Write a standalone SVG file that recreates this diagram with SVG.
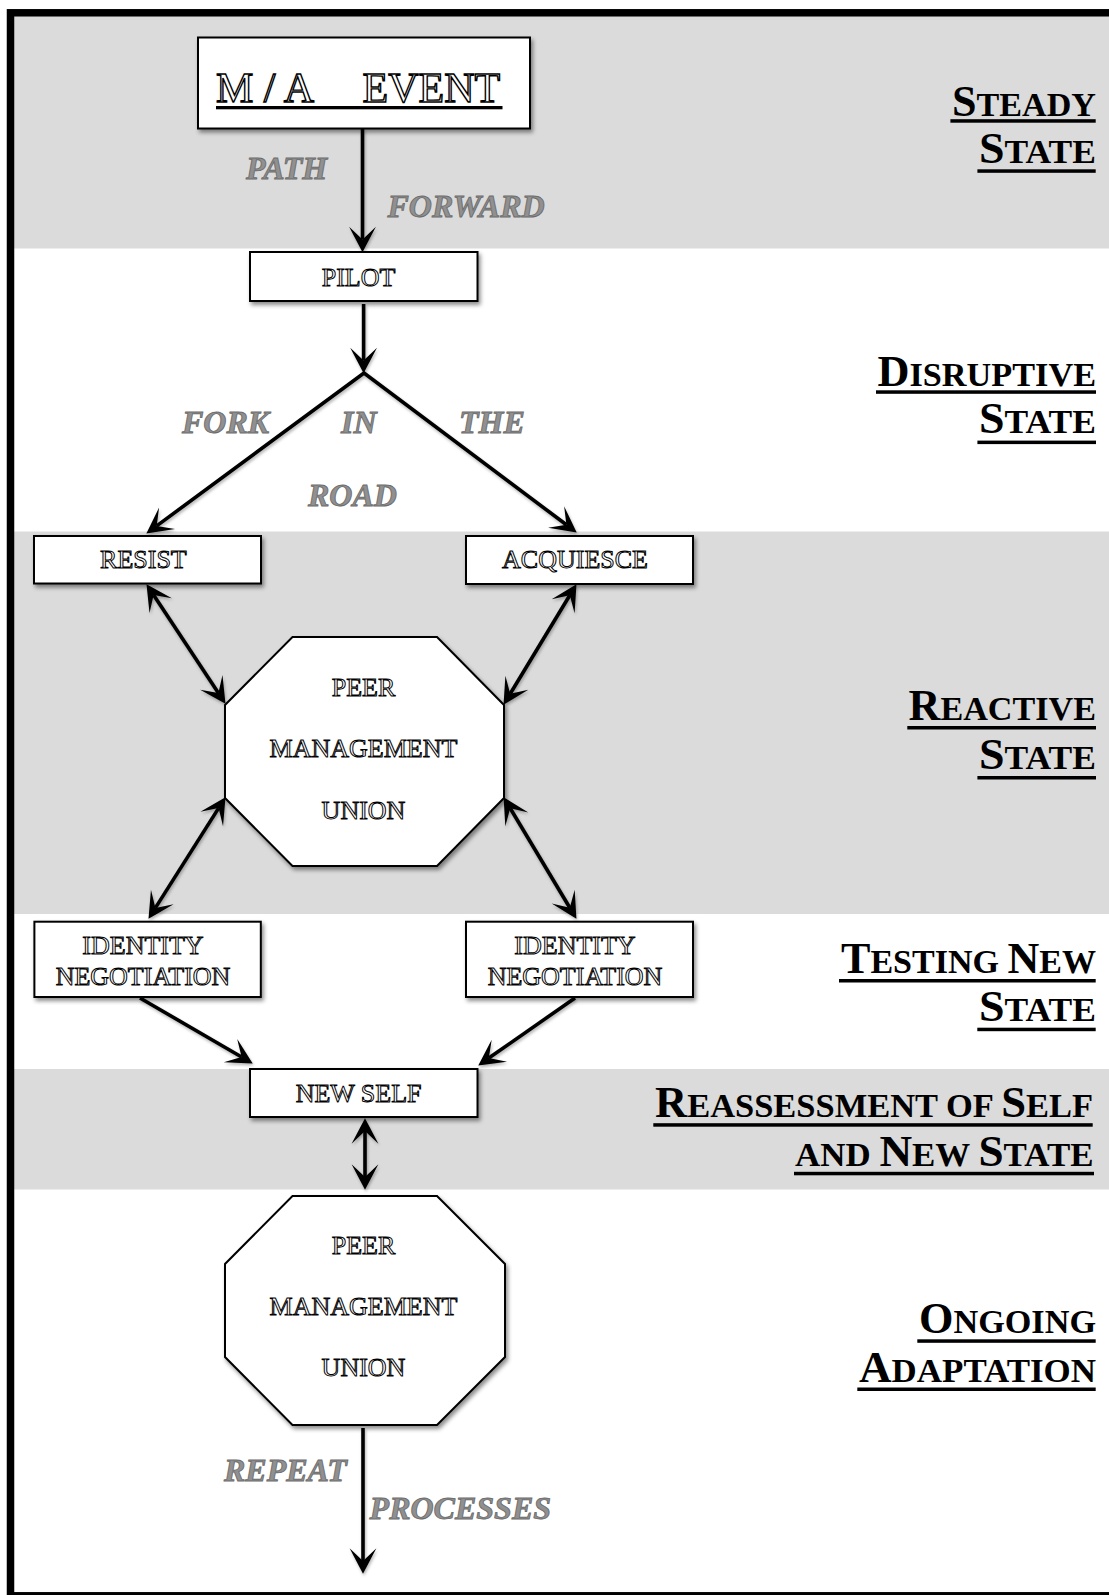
<svg xmlns="http://www.w3.org/2000/svg" width="1109" height="1595" viewBox="0 0 1109 1595">
  <style>
    .band { fill: #dbdbdb; }
    .box { fill: #fff; stroke: #000; stroke-width: 2; }
    .node-text { font-family: 'Liberation Serif', 'Times New Roman', serif; font-size: 26px; fill: #fff; stroke: #000; stroke-width: 1; text-anchor: middle; }
    .title-text { font-family: 'Liberation Serif', 'Times New Roman', serif; font-size: 42px; fill: #fff; stroke: #000; stroke-width: 1.4; }
    .path-label { font-family: 'Liberation Serif', 'Times New Roman', serif; font-size: 32px; font-weight: bold; font-style: italic; fill: #909090; stroke: #6c6c6c; stroke-width: 0.9; }
    .stage { font-family: 'Liberation Serif', 'Times New Roman', serif; font-weight: bold; font-size: 34px; fill: #000; text-anchor: end; }
    .stage .cap { font-size: 44px; }
    .rule { fill: #000; }
    .link { fill: none; stroke: #000; stroke-width: 3.6; stroke-linejoin: miter; }
  </style>
  <defs>
    <marker id="head" markerUnits="userSpaceOnUse" markerWidth="30" markerHeight="30" viewBox="-14 -14 28 28" refX="0" refY="0" orient="auto-start-reverse">
      <path d="M12,0 L-12,-12.5 L0,0 L-12,12.5 Z" fill="#000"/>
    </marker>
    <filter id="drop" x="-10%" y="-10%" width="130%" height="140%">
      <feDropShadow dx="2" dy="3" stdDeviation="2" flood-color="#000" flood-opacity="0.45"/>
    </filter>
    <filter id="linedrop" x="-20%" y="-20%" width="140%" height="140%">
      <feDropShadow dx="1" dy="2" stdDeviation="1.5" flood-color="#000" flood-opacity="0.3"/>
    </filter>
  </defs>

  <!-- page background -->
  <rect x="0" y="0" width="1109" height="1595" fill="#fff"/>

  <!-- alternating stage bands -->
  <g id="bands">
    <rect class="band" x="14" y="16.5" width="1095" height="232"/>
    <rect class="band" x="14" y="531.5" width="1095" height="382.5"/>
    <rect class="band" x="14" y="1069" width="1095" height="120.5"/>
  </g>

  <!-- outer frame -->
  <rect x="10.5" y="12.8" width="1105" height="1583" fill="none" stroke="#000" stroke-width="7.5"/>

  <!-- stage names on the right -->
  <g id="stages">
    <g id="stage-steady">
      <text class="stage" x="1096" y="115.5" textLength="144" lengthAdjust="spacingAndGlyphs"><tspan class="cap">S</tspan>TEADY</text>
      <rect class="rule" x="950.4" y="119.2" width="145.3" height="3.5"/>
      <text class="stage" x="1096" y="163.3" textLength="117" lengthAdjust="spacingAndGlyphs"><tspan class="cap">S</tspan>TATE</text>
      <rect class="rule" x="977.4" y="169.3" width="118.3" height="3.5"/>
    </g>
    <g id="stage-disruptive">
      <text class="stage" x="1096" y="385.7" textLength="218.5" lengthAdjust="spacingAndGlyphs"><tspan class="cap">D</tspan>ISRUPTIVE</text>
      <rect class="rule" x="876" y="390.3" width="220" height="3.5"/>
      <text class="stage" x="1096" y="433" textLength="117" lengthAdjust="spacingAndGlyphs"><tspan class="cap">S</tspan>TATE</text>
      <rect class="rule" x="977.4" y="440.6" width="118.6" height="3.5"/>
    </g>
    <g id="stage-reactive">
      <text class="stage" x="1096" y="720" textLength="187.5" lengthAdjust="spacingAndGlyphs"><tspan class="cap">R</tspan>EACTIVE</text>
      <rect class="rule" x="907.3" y="726" width="188.7" height="3.5"/>
      <text class="stage" x="1096" y="769.3" textLength="117" lengthAdjust="spacingAndGlyphs"><tspan class="cap">S</tspan>TATE</text>
      <rect class="rule" x="977.4" y="776" width="118.6" height="3.5"/>
    </g>
    <g id="stage-testing">
      <text class="stage" x="1096" y="972.7" textLength="255" lengthAdjust="spacingAndGlyphs"><tspan class="cap">T</tspan>ESTING <tspan class="cap">N</tspan>EW</text>
      <rect class="rule" x="839" y="979" width="256.7" height="3.5"/>
      <text class="stage" x="1096" y="1020.7" textLength="117" lengthAdjust="spacingAndGlyphs"><tspan class="cap">S</tspan>TATE</text>
      <rect class="rule" x="977.3" y="1027.7" width="118.4" height="3.5"/>
    </g>
    <g id="stage-reassessment">
      <text class="stage" x="1093" y="1116.7" textLength="438" lengthAdjust="spacingAndGlyphs"><tspan class="cap">R</tspan>EASSESSMENT OF <tspan class="cap">S</tspan>ELF</text>
      <rect class="rule" x="653.3" y="1123.2" width="439.4" height="3.5"/>
      <text class="stage" x="1093.5" y="1165.7" textLength="298.5" lengthAdjust="spacingAndGlyphs">AND <tspan class="cap">N</tspan>EW <tspan class="cap">S</tspan>TATE</text>
      <rect class="rule" x="794" y="1171.8" width="300" height="3.5"/>
    </g>
    <g id="stage-ongoing">
      <text class="stage" x="1096" y="1333" textLength="177" lengthAdjust="spacingAndGlyphs"><tspan class="cap">O</tspan>NGOING</text>
      <rect class="rule" x="917.3" y="1339.3" width="178.4" height="3.5"/>
      <text class="stage" x="1096" y="1381.7" textLength="237" lengthAdjust="spacingAndGlyphs"><tspan class="cap">A</tspan>DAPTATION</text>
      <rect class="rule" x="857.3" y="1387.5" width="238.4" height="3.5"/>
    </g>
  </g>

  <!-- connectors -->
  <g id="connectors" filter="url(#linedrop)">
    <path class="link" d="M362.5,129 L362.5,239.5" marker-end="url(#head)"/>
    <path class="link" d="M363.6,304 L363.6,360.5" marker-end="url(#head)"/>
    <path class="link" d="M156.7,525.9 L364,373 L566.4,524.8" marker-start="url(#head)" marker-end="url(#head)"/>
    <path class="link" d="M153.6,595 L218.4,693" marker-start="url(#head)" marker-end="url(#head)"/>
    <path class="link" d="M569.8,595.3 L510.2,693.7" marker-start="url(#head)" marker-end="url(#head)"/>
    <path class="link" d="M218.6,808.1 L155.4,907.9" marker-start="url(#head)" marker-end="url(#head)"/>
    <path class="link" d="M510.2,808.3 L569.8,907.7" marker-start="url(#head)" marker-end="url(#head)"/>
    <path class="link" d="M140,998 L241.6,1057" marker-end="url(#head)"/>
    <path class="link" d="M575,998 L488.8,1058.1" marker-end="url(#head)"/>
    <path class="link" d="M365,1131 L365,1177" marker-start="url(#head)" marker-end="url(#head)"/>
    <path class="link" d="M363,1428 L363,1561" marker-end="url(#head)"/>
  </g>

  <!-- connector captions -->
  <g id="captions">
    <text class="path-label" x="246" y="179">PATH</text>
    <text class="path-label" x="387.5" y="217">FORWARD</text>
    <text class="path-label" x="182" y="432.7">FORK</text>
    <text class="path-label" x="341" y="432.7">IN</text>
    <text class="path-label" x="459" y="432.7">THE</text>
    <text class="path-label" x="308" y="505.7">ROAD</text>
    <text class="path-label" x="224" y="1481">REPEAT</text>
    <text class="path-label" x="369.6" y="1518.6">PROCESSES</text>
  </g>

  <!-- nodes -->
  <g id="node-event">
    <rect class="box" x="198" y="37.5" width="332" height="91" filter="url(#drop)"/>
    <text class="title-text" x="216" y="101.7">M / A<tspan x="362.5">EVENT</tspan></text>
    <rect class="rule" x="216" y="106" width="286.5" height="3.3"/>
  </g>
  <g id="node-pilot">
    <rect class="box" x="250" y="252" width="227.5" height="49" filter="url(#drop)"/>
    <text class="node-text" x="358.6" y="286">PILOT</text>
  </g>
  <g id="node-resist">
    <rect class="box" x="34" y="536" width="227" height="47.5" filter="url(#drop)"/>
    <text class="node-text" x="143.4" y="568.3">RESIST</text>
  </g>
  <g id="node-acquiesce">
    <rect class="box" x="466" y="536" width="227" height="48" filter="url(#drop)"/>
    <text class="node-text" x="575" y="568.3">ACQUIESCE</text>
  </g>
  <g id="node-union-1">
    <polygon class="box" points="292.5,637 437,637 504,705 504,798 437,866 292.5,866 225,798 225,705" filter="url(#drop)"/>
    <text class="node-text" x="363.5" y="696">PEER</text>
    <text class="node-text" x="363.5" y="757">MANAGEMENT</text>
    <text class="node-text" x="363.5" y="819">UNION</text>
  </g>
  <g id="node-identity-left">
    <rect class="box" x="34.4" y="921.7" width="226.4" height="75.3" filter="url(#drop)"/>
    <text class="node-text" x="143" y="954">IDENTITY</text>
    <text class="node-text" x="143" y="985">NEGOTIATION</text>
  </g>
  <g id="node-identity-right">
    <rect class="box" x="466" y="921.7" width="227" height="75.3" filter="url(#drop)"/>
    <text class="node-text" x="575" y="954">IDENTITY</text>
    <text class="node-text" x="575" y="985">NEGOTIATION</text>
  </g>
  <g id="node-new-self">
    <rect class="box" x="250" y="1069" width="227.5" height="48" filter="url(#drop)"/>
    <text class="node-text" x="358.6" y="1102">NEW SELF</text>
  </g>
  <g id="node-union-2">
    <polygon class="box" points="292.5,1196 437,1196 505,1264 505,1357 437,1425 292.5,1425 225,1357 225,1264" filter="url(#drop)"/>
    <text class="node-text" x="363.5" y="1254">PEER</text>
    <text class="node-text" x="363.5" y="1315">MANAGEMENT</text>
    <text class="node-text" x="363.5" y="1376">UNION</text>
  </g>
</svg>
